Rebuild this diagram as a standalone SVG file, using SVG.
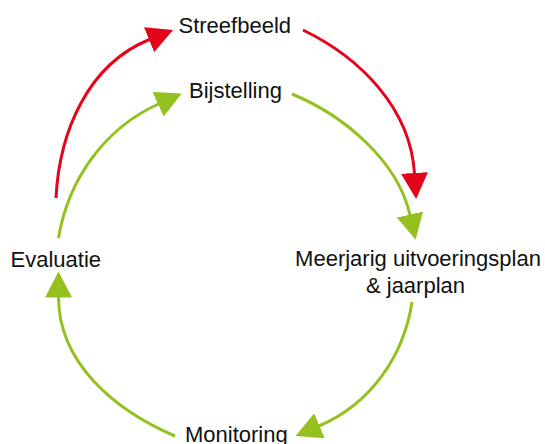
<svg xmlns="http://www.w3.org/2000/svg" width="545" height="444" viewBox="0 0 545 444">
  <style>
    .lbl { font-family: "Liberation Sans", Arial, sans-serif; font-size: 22px; fill: #111111; }
    .red { fill: none; stroke: #E3051B; stroke-width: 3; }
    .green { fill: none; stroke: #95C11F; stroke-width: 3; }
  </style>
  <defs>
    <marker id="arrRed" viewBox="0 0 26 27" markerWidth="26" markerHeight="27" refX="0.5" refY="13.5" orient="auto" markerUnits="userSpaceOnUse">
      <path d="M0,0 L26,13.5 L0,27 Z" fill="#E3051B"/>
    </marker>
    <marker id="arrGreen" viewBox="0 0 26 27" markerWidth="26" markerHeight="27" refX="0.5" refY="13.5" orient="auto" markerUnits="userSpaceOnUse">
      <path d="M0,0 L26,13.5 L0,27 Z" fill="#95C11F"/>
    </marker>
  </defs>
  <rect width="545" height="444" fill="#ffffff"/>
  <g id="connectors">
    <path class="red" d="M56,198 C59.3,131.6 87.9,64.4 149.5,39.5" marker-end="url(#arrRed)"/>
    <path class="red" d="M303,30 C361.3,58.3 410.4,108.8 414.5,173.5" marker-end="url(#arrRed)"/>
    <path class="green" d="M58.5,238 C68.3,179.6 104.5,128.3 158.5,104" marker-end="url(#arrGreen)"/>
    <path class="green" d="M292,94 C343,115 397.5,160 410,215" marker-end="url(#arrGreen)"/>
    <path class="green" d="M412,302 C403.8,356.6 369.9,404.6 319,426" marker-end="url(#arrGreen)"/>
    <path class="green" d="M175,436 C114.4,410 58.5,362.9 58.5,297" marker-end="url(#arrGreen)"/>
  </g>
  <g id="streefbeeld"><text class="lbl" x="178.5" y="33">Streefbeeld</text></g>
  <g id="bijstelling"><text class="lbl" x="189" y="97.5">Bijstelling</text></g>
  <g id="meerjarig">
    <text class="lbl" x="418" y="266" text-anchor="middle">Meerjarig uitvoeringsplan</text>
    <text class="lbl" x="415.5" y="293" text-anchor="middle">&amp; jaarplan</text>
  </g>
  <g id="monitoring"><text class="lbl" x="185" y="441.5">Monitoring</text></g>
  <g id="evaluatie"><text class="lbl" x="10.5" y="266.5">Evaluatie</text></g>
</svg>
